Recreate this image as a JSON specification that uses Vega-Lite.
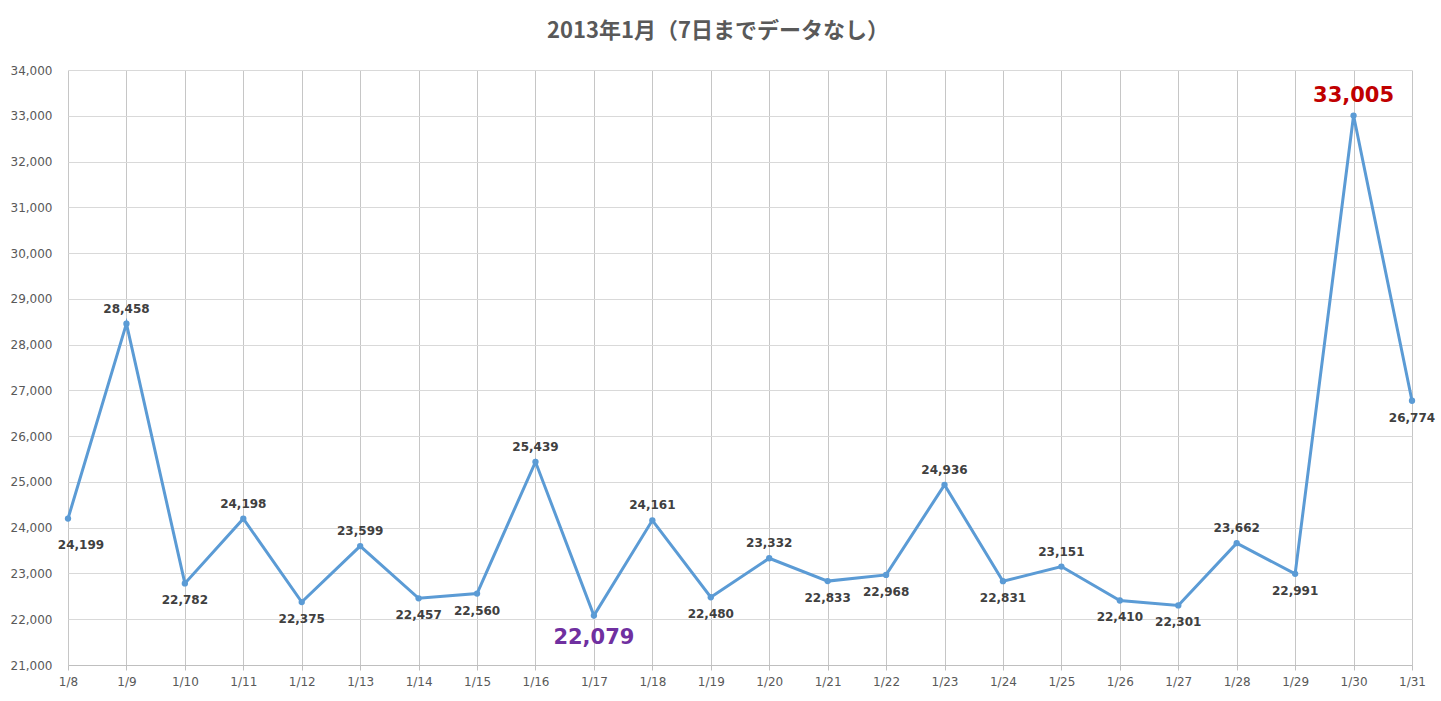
{
  "$schema": "https://vega.github.io/schema/vega-lite/v6.json",
  "autosize": {"type": "none"},
  "padding": {"left": 68, "top": 70, "right": 29, "bottom": 36},
  "width": 1344,
  "height": 595,
  "background": "white",
  "title": {
    "text": "2013年1月（7日までデータなし）",
    "font": "Noto Sans CJK JP",
    "fontSize": 22,
    "fontWeight": "bold",
    "color": "#595959",
    "anchor": "middle",
    "baseline": "middle",
    "dx": -22,
    "dy": 29,
    "offset": 40
  },
  "config": {
    "view": {"stroke": null},
    "font": "DejaVu Sans"
  },
  "data": {
    "values": [
      {"date": "1/8", "value": 24199},
      {"date": "1/9", "value": 28458},
      {"date": "1/10", "value": 22782},
      {"date": "1/11", "value": 24198},
      {"date": "1/12", "value": 22375},
      {"date": "1/13", "value": 23599},
      {"date": "1/14", "value": 22457},
      {"date": "1/15", "value": 22560},
      {"date": "1/16", "value": 25439},
      {"date": "1/17", "value": 22079},
      {"date": "1/18", "value": 24161},
      {"date": "1/19", "value": 22480},
      {"date": "1/20", "value": 23332},
      {"date": "1/21", "value": 22833},
      {"date": "1/22", "value": 22968},
      {"date": "1/23", "value": 24936},
      {"date": "1/24", "value": 22831},
      {"date": "1/25", "value": 23151},
      {"date": "1/26", "value": 22410},
      {"date": "1/27", "value": 22301},
      {"date": "1/28", "value": 23662},
      {"date": "1/29", "value": 22991},
      {"date": "1/30", "value": 33005},
      {"date": "1/31", "value": 26774}
    ]
  },
  "encoding": {
    "x": {
      "field": "date",
      "type": "ordinal",
      "sort": null,
      "scale": {"type": "point", "padding": 0},
      "axis": {
        "title": null,
        "labelAngle": 0,
        "labelFont": "DejaVu Sans",
        "labelFontSize": 12,
        "labelColor": "#595959",
        "labelPadding": 6,
        "tickSize": 5,
        "tickColor": "#bfbfbf",
        "domainColor": "#bfbfbf",
        "grid": true,
        "gridColor": "#c6c6c6"
      }
    },
    "y": {
      "field": "value",
      "type": "quantitative",
      "scale": {"domain": [21000, 34000], "nice": false, "zero": false},
      "axis": {
        "title": null,
        "values": [21000, 22000, 23000, 24000, 25000, 26000, 27000, 28000, 29000, 30000, 31000, 32000, 33000, 34000],
        "format": ",d",
        "labelFont": "DejaVu Sans",
        "labelFontSize": 12,
        "labelColor": "#595959",
        "labelPadding": 16,
        "ticks": false,
        "domain": false,
        "grid": true,
        "gridColor": "#d9d9d9"
      }
    }
  },
  "layer": [
    {
      "mark": {"type": "line", "color": "#5B9BD5", "strokeWidth": 3}
    },
    {
      "mark": {"type": "point", "filled": true, "color": "#5B9BD5", "size": 40, "opacity": 1}
    },
    {
      "transform": [{"filter": {"field": "date", "oneOf": ["1/9", "1/11", "1/13", "1/16", "1/18", "1/20", "1/23", "1/25", "1/28"]}}],
      "mark": {"type": "text", "dy": -15, "baseline": "middle", "font": "DejaVu Sans", "fontWeight": "bold", "fontSize": 12, "color": "#404040"},
      "encoding": {"text": {"field": "value", "type": "quantitative", "format": ",d"}}
    },
    {
      "transform": [{"filter": {"field": "date", "oneOf": ["1/10", "1/12", "1/14", "1/15", "1/19", "1/21", "1/22", "1/24", "1/26", "1/27", "1/29", "1/31"]}}],
      "mark": {"type": "text", "dy": 17, "baseline": "middle", "font": "DejaVu Sans", "fontWeight": "bold", "fontSize": 12, "color": "#404040"},
      "encoding": {"text": {"field": "value", "type": "quantitative", "format": ",d"}}
    },
    {
      "transform": [{"filter": {"field": "date", "equal": "1/8"}}],
      "mark": {"type": "text", "dy": 26, "dx": 13, "baseline": "middle", "font": "DejaVu Sans", "fontWeight": "bold", "fontSize": 12, "color": "#404040"},
      "encoding": {"text": {"field": "value", "type": "quantitative", "format": ",d"}}
    },
    {
      "transform": [{"filter": {"field": "date", "equal": "1/17"}}],
      "mark": {"type": "text", "dy": 22, "baseline": "middle", "font": "DejaVu Sans", "fontWeight": "bold", "fontSize": 21, "color": "#7030A0"},
      "encoding": {"text": {"field": "value", "type": "quantitative", "format": ",d"}}
    },
    {
      "transform": [{"filter": {"field": "date", "equal": "1/30"}}],
      "mark": {"type": "text", "dy": -20, "baseline": "middle", "font": "DejaVu Sans", "fontWeight": "bold", "fontSize": 21, "color": "#C00000"},
      "encoding": {"text": {"field": "value", "type": "quantitative", "format": ",d"}}
    }
  ]
}
